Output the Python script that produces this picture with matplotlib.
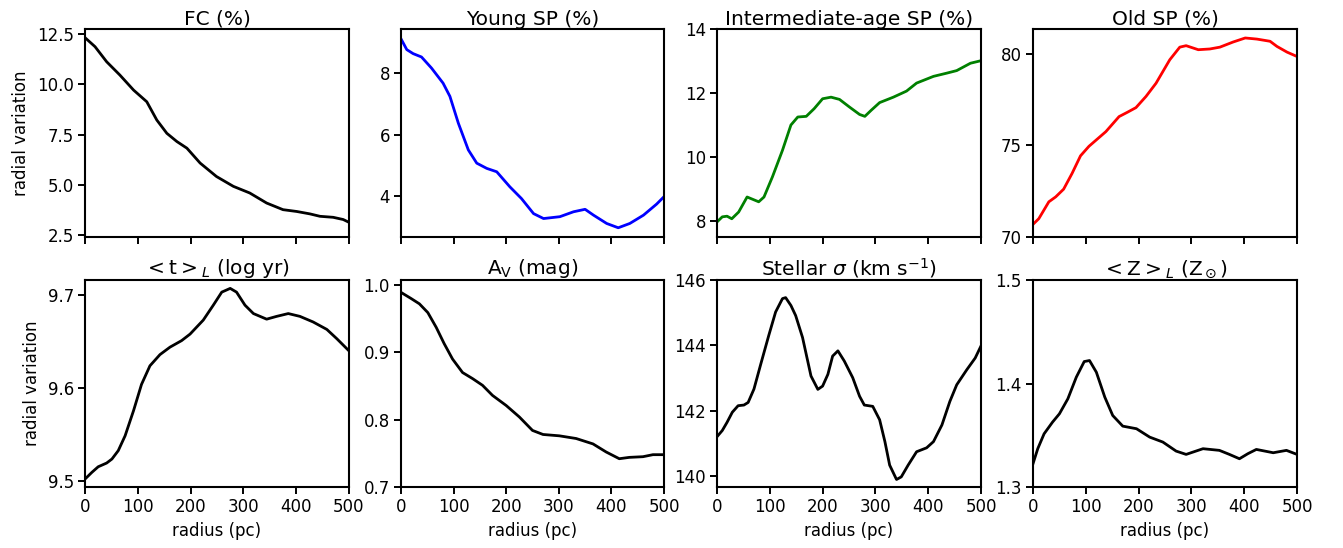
import matplotlib
matplotlib.use("Agg")
import matplotlib.pyplot as plt

# ---- data ----
fc_r = [0, 19, 41, 66, 92, 117, 136, 155, 174, 193, 218, 249, 281, 312, 344, 375, 401, 426, 445, 470, 489, 500]
fc_v = [12.32, 11.87, 11.12, 10.46, 9.71, 9.13, 8.22, 7.56, 7.15, 6.82, 6.08, 5.41, 4.92, 4.59, 4.09, 3.76, 3.67, 3.55, 3.43, 3.38, 3.27, 3.13]

young_r = [0, 11, 23, 39, 58, 80, 93, 109, 128, 144, 163, 182, 207, 229, 252, 271, 302, 328, 350, 366, 391, 413, 435, 461, 486, 500]
young_v = [9.11, 8.76, 8.63, 8.52, 8.16, 7.67, 7.24, 6.37, 5.50, 5.07, 4.90, 4.79, 4.30, 3.92, 3.43, 3.27, 3.33, 3.49, 3.57, 3.38, 3.11, 2.97, 3.11, 3.38, 3.74, 3.98]

inter_r = [0, 10, 19, 28, 41, 57, 79, 89, 105, 124, 140, 153, 169, 184, 200, 216, 232, 251, 270, 280, 292, 308, 334, 359, 378, 410, 435, 454, 480, 500]
inter_v = [7.97, 8.13, 8.15, 8.07, 8.28, 8.75, 8.60, 8.75, 9.38, 10.21, 11.00, 11.25, 11.27, 11.51, 11.82, 11.87, 11.80, 11.56, 11.33, 11.27, 11.46, 11.70, 11.87, 12.06, 12.31, 12.52, 12.62, 12.70, 12.93, 13.01]

old_r = [0, 11, 30, 43, 58, 74, 90, 106, 138, 163, 179, 195, 214, 233, 259, 278, 290, 313, 335, 354, 379, 402, 424, 449, 462, 481, 500]
old_v = [70.69, 71.0, 71.92, 72.19, 72.61, 73.47, 74.43, 74.95, 75.75, 76.57, 76.81, 77.06, 77.67, 78.39, 79.67, 80.36, 80.44, 80.22, 80.26, 80.36, 80.64, 80.86, 80.80, 80.68, 80.40, 80.09, 79.85]

age_r = [0, 13, 25, 41, 51, 63, 76, 92, 107, 123, 142, 161, 183, 199, 224, 243, 259, 275, 287, 303, 319, 344, 363, 385, 407, 432, 458, 477, 500]
age_v = [9.5025, 9.5097, 9.5157, 9.5197, 9.524, 9.533, 9.549, 9.576, 9.604, 9.624, 9.636, 9.644, 9.651, 9.658, 9.673, 9.689, 9.703, 9.707, 9.703, 9.689, 9.680, 9.674, 9.677, 9.680, 9.677, 9.671, 9.663, 9.653, 9.640]

av_r = [0, 19, 35, 51, 67, 82, 98, 117, 136, 155, 174, 200, 225, 250, 270, 301, 333, 365, 390, 415, 434, 460, 479, 500]
av_v = [0.989, 0.980, 0.972, 0.959, 0.937, 0.913, 0.890, 0.870, 0.861, 0.851, 0.836, 0.821, 0.804, 0.784, 0.778, 0.776, 0.772, 0.764, 0.752, 0.742, 0.744, 0.745, 0.748, 0.748]

sig_r = [0, 10, 19, 29, 40, 51, 59, 70, 83, 98, 111, 124, 130, 140, 149, 162, 178, 191, 200, 210, 219, 229, 241, 257, 270, 279, 295, 308, 318, 327, 340, 349, 362, 378, 397, 410, 426, 441, 454, 473, 489, 500]
sig_v = [141.20, 141.39, 141.64, 141.95, 142.15, 142.17, 142.25, 142.66, 143.43, 144.30, 145.02, 145.43, 145.46, 145.22, 144.91, 144.24, 143.06, 142.65, 142.75, 143.11, 143.67, 143.83, 143.52, 143.01, 142.44, 142.17, 142.13, 141.72, 141.05, 140.33, 139.89, 139.97, 140.33, 140.74, 140.86, 141.05, 141.56, 142.28, 142.79, 143.25, 143.61, 143.98]

z_r = [0, 9, 21, 37, 50, 66, 82, 97, 107, 120, 136, 151, 170, 196, 221, 246, 271, 290, 322, 353, 372, 391, 407, 423, 455, 480, 500]
z_v = [1.3225, 1.3370, 1.3514, 1.3627, 1.3707, 1.3852, 1.4061, 1.4212, 1.4222, 1.4109, 1.3868, 1.3691, 1.3588, 1.3563, 1.3482, 1.3434, 1.3347, 1.3315, 1.3370, 1.3354, 1.3315, 1.3273, 1.3322, 1.3363, 1.3331, 1.3354, 1.3315]

titles = ["FC (%)", "Young SP (%)", "Intermediate-age SP (%)", "Old SP (%)",
          r"$<\mathrm{t}>_L$ (log yr)", r"A$_\mathrm{V}$ (mag)",
          r"Stellar $\sigma$ (km s$^{-1}$)", r"$<\mathrm{Z}>_L$ (Z$_\odot$)"]
colors = ["black", "blue", "green", "red", "black", "black", "black", "black"]
series = [(fc_r, fc_v), (young_r, young_v), (inter_r, inter_v), (old_r, old_v),
          (age_r, age_v), (av_r, av_v), (sig_r, sig_v), (z_r, z_v)]
ylims = [(2.40, 12.75), (2.67, 9.43), (7.5, 14.0), (70.0, 81.35),
         (9.494, 9.716), (0.70, 1.0074), (139.66, 146.0), (1.30, 1.50)]
yticks = [[2.5, 5.0, 7.5, 10.0, 12.5], [4, 6, 8], [8, 10, 12, 14], [70, 75, 80],
          [9.5, 9.6, 9.7], [0.7, 0.8, 0.9, 1.0], [140, 142, 144, 146], [1.3, 1.4, 1.5]]
ytick_fmt = ["{:.1f}", "{:d}", "{:d}", "{:d}", "{:.1f}", "{:.1f}", "{:d}", "{:.1f}"]
xticks = [0, 100, 200, 300, 400, 500]

fig = plt.figure(figsize=(13.43, 5.48), dpi=100)
W, H = 1343, 548
lefts = [85, 401, 717, 1033]
widths = [264, 263, 264, 264]
tops = [29, 280]
heights = [208, 207]

for i in range(8):
    row, col = divmod(i, 4)
    l = lefts[col] / W
    b = 1 - (tops[row] + heights[row]) / H
    ax = fig.add_axes([l, b, widths[col] / W, heights[row] / H])
    r, v = series[i]
    ax.plot(r, v, color=colors[i], lw=2.0)
    ax.set_xlim(0, 500)
    ax.set_ylim(*ylims[i])
    ax.set_xticks(xticks)
    ax.set_yticks(yticks[i])
    ax.set_yticklabels([ytick_fmt[i].format(t) for t in yticks[i]])
    if row == 0:
        ax.set_xticklabels([])
    else:
        ax.set_xticklabels([str(t) for t in xticks])
        ax.set_xlabel("radius (pc)", fontsize=12)
    if col == 0:
        ax.set_ylabel("radial variation", fontsize=12, labelpad=5)
    ax.set_title(titles[i], fontsize=14.5, pad=3)
    ax.tick_params(labelsize=12, width=1.4, length=5, direction="out", pad=3)
    for s in ax.spines.values():
        s.set_linewidth(1.5)

fig.savefig("out.png", dpi=100)
